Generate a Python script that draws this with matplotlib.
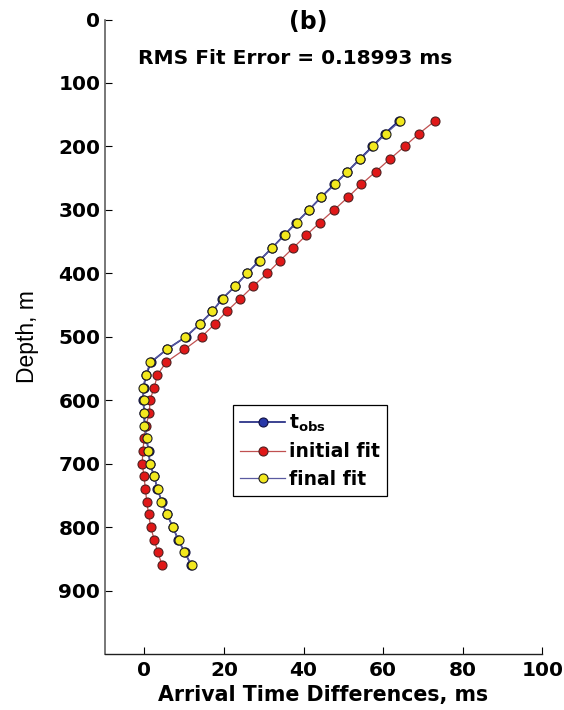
import matplotlib
matplotlib.use("Agg")
import matplotlib.pyplot as plt
import numpy as np

depth = list(range(160, 861, 20))

initial_fit = [73.0, 69.0, 65.4, 61.7, 58.1, 54.5, 51.2, 47.7, 44.1, 40.7,
               37.4, 34.1, 30.9, 27.4, 24.1, 20.7, 17.7, 14.4, 10.1, 5.5,
               3.3, 2.5, 1.4, 1.3, 0.4, 0.0, -0.4, -0.5, -0.1, 0.3,
               0.6, 1.1, 1.6, 2.5, 3.4, 4.5]

final_fit = [64.3, 60.7, 57.5, 54.3, 51.0, 47.9, 44.5, 41.3, 38.3, 35.3,
             32.0, 29.0, 25.9, 22.8, 19.7, 17.0, 14.1, 10.3, 5.8, 1.5,
             0.35, -0.3, -0.2, -0.1, 0.0, 0.6, 1.0, 1.5, 2.4, 3.4,
             4.3, 5.8, 7.1, 8.6, 10.1, 11.9]

t_obs = [63.9, 60.4, 57.3, 54.1, 51.0, 47.7, 44.4, 41.4, 38.2, 35.1,
         32.1, 28.9, 25.8, 22.9, 19.6, 17.1, 13.9, 10.5, 5.6, 1.7,
         0.5, -0.2, -0.3, 0.0, 0.1, 0.5, 1.1, 1.4, 2.5, 3.3,
         4.4, 5.7, 7.2, 8.5, 10.2, 11.8]

xticks = [0, 20, 40, 60, 80, 100]
yticks = [0, 100, 200, 300, 400, 500, 600, 700, 800, 900]

plt.rcParams['font.family'] = ['DejaVu Sans']
plt.rcParams['mathtext.fontset'] = 'dejavusans'

W, H = 564, 710
fig = plt.figure(figsize=(W / 100, H / 100), dpi=100)
ax = fig.add_axes([104.5 / W, 1 - 654 / H, (542.3 - 104.5) / W, (654 - 19.5) / H])

ax.plot(t_obs, depth, '-o', color='#1a237e', lw=1.2, ms=6.5,
        mfc='#2838a8', mec='#101040', mew=0.8, label=r'$\mathbf{t_{obs}}$', zorder=2)
ax.plot(initial_fit, depth, '-o', color='#c05050', lw=0.9, ms=6.5,
        mfc='#e01818', mec='#502020', mew=0.8, label='initial fit', zorder=3)
ax.plot(final_fit, depth, '-o', color='#5a5aa0', lw=0.9, ms=6.5,
        mfc='#f2e81e', mec='#202020', mew=0.8, label='final fit', zorder=4)

ax.set_xlim(-10, 100)
ax.set_ylim(1000, 0)
ax.set_xticks(xticks)
ax.set_yticks(yticks)
ax.tick_params(direction='in', length=5, width=0.8, labelsize=14.5)
ax.tick_params(axis='y', pad=3)
ax.tick_params(axis='x', pad=5)
for lab in ax.get_xticklabels() + ax.get_yticklabels():
    lab.set_fontweight('bold')
ax.spines['top'].set_visible(False)
ax.spines['right'].set_visible(False)
ax.spines['left'].set_color('#606060')
ax.spines['left'].set_linewidth(1.2)
ax.spines['bottom'].set_color('#202020')
ax.spines['bottom'].set_linewidth(1.0)

ax.set_xlabel('Arrival Time Differences, ms', fontsize=14.8, fontweight='bold', labelpad=4)
ax.set_ylabel('Depth, m', fontsize=16.5, family=['Liberation Sans Narrow', 'Liberation Sans'],
              labelpad=14)

fig.text(308 / W, 1 - 22 / H, '(b)', fontsize=17, fontweight='bold', ha='center', va='center')
fig.text(138 / W, 1 - 58.5 / H, 'RMS Fit Error = 0.18993 ms', fontsize=14.5,
         fontweight='bold', ha='left', va='center')

leg = ax.legend(loc='upper left', bbox_to_anchor=(232.7 / W, 1 - 405 / H),
                bbox_transform=fig.transFigure, borderaxespad=0, fancybox=False,
                edgecolor='black', framealpha=1, handlelength=2.4, handletextpad=0.2,
                labelspacing=0.45, borderpad=0.4, prop={'weight': 'bold', 'size': 13.5})
leg.get_frame().set_linewidth(0.9)

fig.savefig('out.png', dpi=100)
